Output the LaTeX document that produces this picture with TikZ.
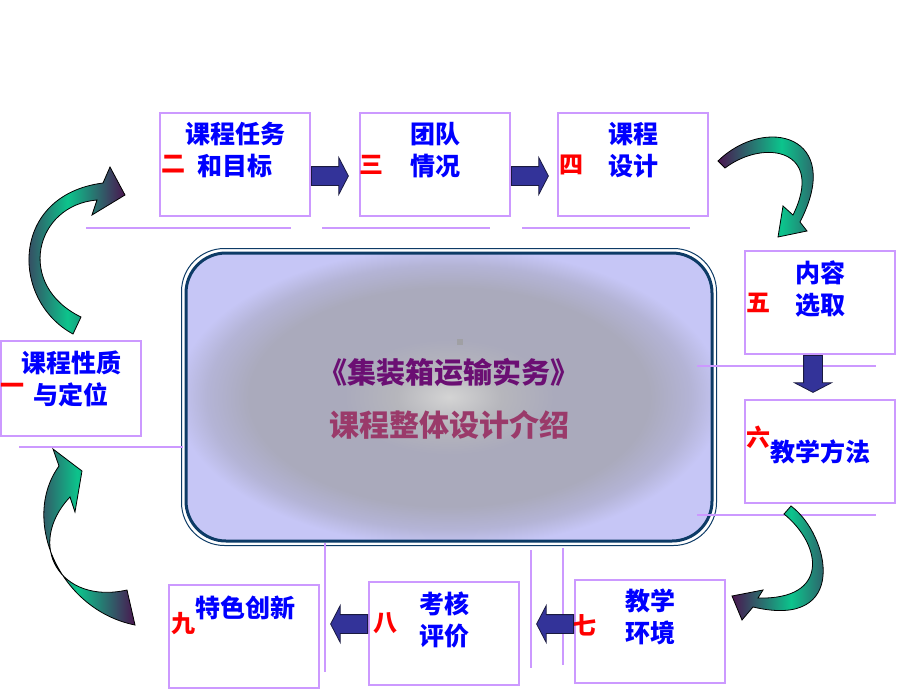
\documentclass[tikz,border=0pt]{standalone}
\usepackage{fontspec}
\setmainfont{Noto Sans CJK SC}
\usepackage{tikz}
\usetikzlibrary{
    arrows.meta,
    positioning,
    shapes.arrows,
    calc
}
\definecolor{boxborder}{HTML}{CC99FF}
\definecolor{itemblue}{HTML}{0000FF}
\definecolor{numred}{HTML}{FF0000}
\definecolor{blockfill}{HTML}{333399}
\definecolor{blockedge}{HTML}{1A1A40}
\definecolor{curveteal}{HTML}{0CC48C}
\definecolor{curvepurple}{HTML}{4A1650}
\definecolor{corenavy}{HTML}{0D3B66}
\definecolor{titlepurple}{HTML}{6B0F73}
\definecolor{subtitlerose}{HTML}{9A3A6A}
\definecolor{glowcenter}{HTML}{D4D4D4}
\definecolor{glowinner}{HTML}{B6B6BC}
\definecolor{glowmid}{HTML}{AAAABC}
\definecolor{glowouter}{HTML}{B4B4D6}
\definecolor{glowedge}{HTML}{C6C6F6}
\definecolor{speckgray}{HTML}{A0A0A4}
\pgfdeclareradialshading{coreglow}{\pgfpoint{0bp}{0bp}}{%
    color(0bp)=(glowcenter); color(5bp)=(glowinner); color(10bp)=(glowmid);
    color(19bp)=(glowmid); color(23bp)=(glowouter); color(26bp)=(glowedge);
    color(50bp)=(glowedge)}
\tikzset{
    topicbox/.style={
        rectangle, draw=boxborder, fill=white, line width=1pt,
        minimum width=75pt, minimum height=51.5pt, inner sep=0pt
    },
    topictext/.style={
        font=\bfseries\fontsize{12.5pt}{16pt}\selectfont,
        text=itemblue, align=center, inner sep=0pt
    },
    numlabel/.style={
        font=\bfseries\fontsize{12pt}{14pt}\selectfont,
        text=numred, inner sep=0pt
    },
    corebox/.style={
        rectangle, draw=corenavy, line width=1.5pt, shading=coreglow,
        rounded corners=20pt, minimum width=263pt, minimum height=144pt
    },
    blockarrow/.style={
        single arrow, draw=blockedge, fill=blockfill, line width=0.4pt,
        inner sep=4.5pt, minimum height=18.5pt,
        single arrow head extend=4.5pt, single arrow tip angle=125,
        shape border rotate=#1, anchor=tail
    },
    blockarrow/.default=0,
    guideline/.style={draw=boxborder, line width=1pt},
    curvearrow/.style={
        draw=black, line width=0.4pt,
        left color=curvepurple, right color=curvepurple, middle color=curveteal
    },
}

\begin{document}
\begin{tikzpicture}[x=0.5pt, y=-0.5pt]
    \useasboundingbox (0,0) rectangle (920,690);

    % Centre panel
    \node[corebox] (core) at (449,397) {};
    \draw[corenavy, line width=0.5pt, rounded corners=21.5pt]
        ($(core.south west)+(-3,3)$) rectangle ($(core.north east)+(3,-3)$);
    \fill[speckgray] (457,339) rectangle (463,345);
    \node[font=\bfseries\fontsize{14.5pt}{16pt}\selectfont, text=titlepurple] (title) at (449,372) {《集装箱运输实务》};
    \node[font=\bfseries\fontsize{15pt}{16pt}\selectfont, text=subtitlerose] (subtitle) at (449,425) {课程整体设计介绍};

    % Guide lines
    \draw[guideline] (86,228) -- (291,228);
    \draw[guideline] (322,228) -- (490,228);
    \draw[guideline] (522,228) -- (690,228);
    \draw[guideline] (19,447) -- (183,447);
    \draw[guideline] (697,366) -- (876,366);
    \draw[guideline] (697,515) -- (876,515);
    \draw[guideline] (325,543) -- (325,672);
    \draw[guideline] (531,550) -- (531,668);
    \draw[guideline] (563,548) -- (563,665);

    % Topic boxes
    \node[topicbox, minimum width=70pt, minimum height=47.5pt] (b1) at (71,388.5) {};
    \node[topicbox] (b2) at (235,164.5) {};
    \node[topicbox] (b3) at (435,164.5) {};
    \node[topicbox] (b4) at (633,164.5) {};
    \node[topicbox] (b5) at (820,302.5) {};
    \node[topicbox] (b6) at (820,451.5) {};
    \node[topicbox] (b7) at (650,631) {};
    \node[topicbox] (b8) at (444,633.5) {};
    \node[topicbox] (b9) at (244,636) {};

    \node[topictext, below=5pt of b1.north] (t1) {课程性质\\与定位};
    \node[topictext, below=5pt of b2.north] (t2) {课程任务\\和目标};
    \node[topictext, below=5pt of b3.north] (t3) {团队\\情况};
    \node[topictext, below=5pt of b4.north] (t4) {课程\\设计};
    \node[topictext, below=5pt of b5.north] (t5) {内容\\选取};
    \node[topictext] (t6) at (b6) {教学方法};
    \node[topictext, below=5pt of b7.north] (t7) {教学\\环境};
    \node[topictext, below=5pt of b8.north] (t8) {考核\\评价};
    \node[topictext, below=6pt of b9.north, xshift=0.5pt] (t9) {特色创新};

    % Numbers
    \node[numlabel, right=0pt of b1.west] (n1) {一};
    \node[numlabel, right=1pt of b2.west] (n2) {二};
    \node[numlabel, right=0pt of b3.west] (n3) {三};
    \node[numlabel, right=1pt of b4.west] (n4) {四};
    \node[numlabel, right=1pt of b5.west] (n5) {五};
    \node[numlabel, right=1pt of b6.west, yshift=7.25pt] (n6) {六};
    \node[numlabel, right=-1pt of b7.west, yshift=3pt] (n7) {七};
    \node[numlabel, right=2.5pt of b8.west, yshift=5pt] (n8) {八};
    \node[numlabel, right=1.5pt of b9.west, yshift=6pt] (n9) {九};

    % Block arrows
    \node[blockarrow] (a23) at ($(b2.east)+(0,11.5)$) {};
    \node[blockarrow] (a34) at ($(b3.east)+(0,11.5)$) {};
    \node[blockarrow=270] (a56) at ($(b5.south)+(-7,0)$) {};
    \node[blockarrow=180] (a78) at ($(b7.west)+(0,-7)$) {};
    \node[blockarrow=180] (a89) at ($(b8.west)+(0,-9.5)$) {};

    % Curved arrows
    \draw[curvearrow] (73,334) .. controls (10,300) and (10,195) .. (103,183)
        -- (110,167) -- (125,195) -- (92,215) -- (97,200)
        .. controls (35,205) and (15,285) .. (81,317) -- cycle;
    \draw[curvearrow] (718,161) .. controls (765,115) and (845,135) .. (800,222)
        -- (807,231) -- (778,237) -- (783,206) -- (793,215)
        .. controls (825,150) and (765,138) .. (725,168) -- cycle;
    \draw[curvearrow] (791,506) .. controls (830,535) and (850,630) .. (753,607)
        -- (742,620) -- (732,596) -- (763,590) -- (758,598)
        .. controls (830,600) and (822,545) .. (784,514) -- cycle;
    \draw[curvearrow] (135,625) .. controls (60,610) and (20,520) .. (59,466)
        -- (53,449) -- (82,471) -- (75,512) -- (70,497)
        .. controls (25,545) and (60,605) .. (127,590) -- cycle;
\end{tikzpicture}
\end{document}
